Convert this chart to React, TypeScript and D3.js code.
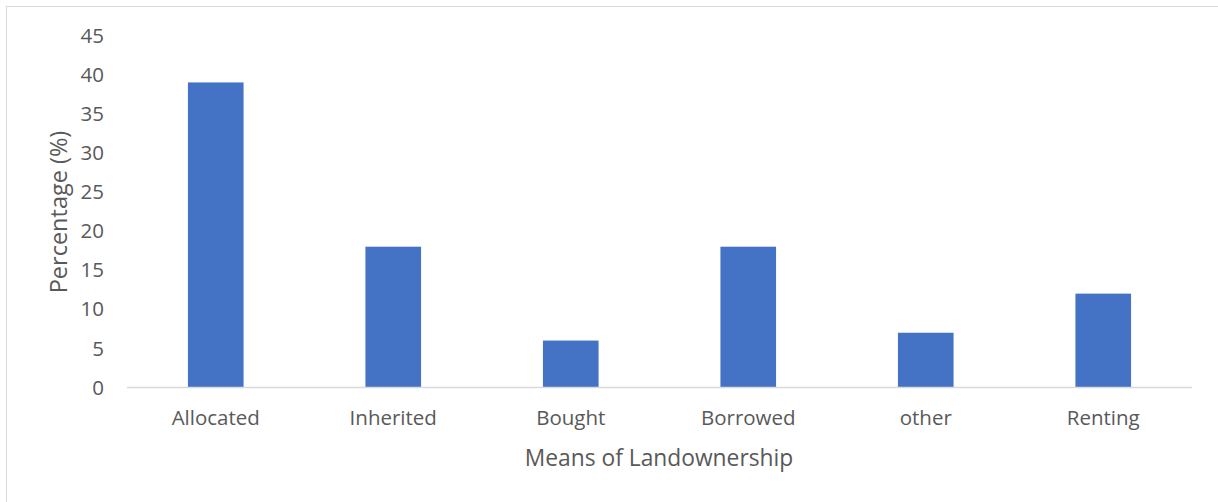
import React from "react";
import * as d3 from "d3";

const categories = ["Allocated", "Inherited", "Bought", "Borrowed", "other", "Renting"];
const values = [39, 18, 6, 18, 7, 12];
const yTicks = [0, 5, 10, 15, 20, 25, 30, 35, 40, 45];

const W = 1218;
const H = 502;
const left = 127;
const right = 1192;
const top = 35.5;
const bottom = 387.5;
const font = "'Open Sans', Lato, sans-serif";

export default function App() {
  const x = d3.scaleBand<string>().domain(categories).range([left, right]).paddingInner(0).paddingOuter(0);
  const y = d3.scaleLinear().domain([0, 45]).range([bottom, top]);
  const bw = x.bandwidth() / 3.19;
  return (
    <svg width={W} height={H} style={{ position: "absolute", left: 0, top: 0 }}>
      <rect x={0} y={0} width={W} height={H} fill="#fff" />
      <rect x={6.5} y={6.5} width={W + 10} height={H + 10} fill="none" stroke="#d9d9d9" strokeWidth={1} />
      {categories.map((c, i) => (
        <rect key={c} x={x(c)! + (x.bandwidth() - bw) / 2} y={y(values[i])} width={bw} height={y(0) - y(values[i])} fill="#4472c4" />
      ))}
      <line x1={left} x2={right} y1={bottom} y2={bottom} stroke="#d9d9d9" strokeWidth={1.5} />
      {yTicks.map((t) => (
        <text key={t} x={104} y={y(t)} dy="0.35em" textAnchor="end" fontFamily={font} fontSize={20.5} fill="#595959">
          {t}
        </text>
      ))}
      {categories.map((c) => (
        <text key={c} x={x(c)! + x.bandwidth() / 2} y={418} dy="0.35em" textAnchor="middle" fontFamily={font} fontSize={20.5} fill="#595959">
          {c}
        </text>
      ))}
      <text x={(left + right) / 2 - 0.5} y={458} dy="0.35em" textAnchor="middle" fontFamily={font} fontSize={22.8} fill="#595959">
        Means of Landownership
      </text>
      <text transform={`translate(59,212) rotate(-90)`} dy="0.35em" textAnchor="middle" fontFamily={font} fontSize={23.5} fill="#595959">
        Percentage (%)
      </text>
    </svg>
  );
}
